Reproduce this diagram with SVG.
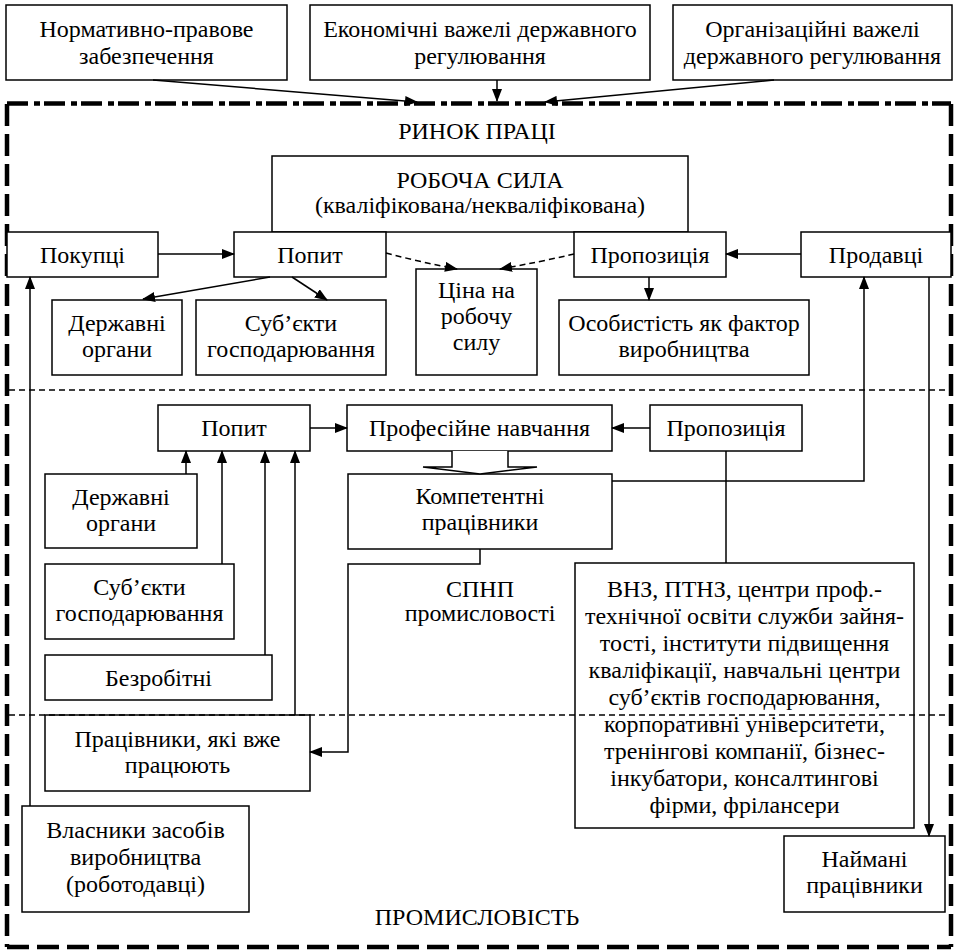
<svg xmlns="http://www.w3.org/2000/svg" width="954" height="951" viewBox="0 0 954 951">
<style>
.box{fill:#fff;stroke:#000;stroke-width:1.5}
text{font-family:"Liberation Serif","Times New Roman",serif;font-size:24px;fill:#000;text-anchor:middle}
.ln{fill:none;stroke:#000;stroke-width:1.5}
.dash{fill:none;stroke:#000;stroke-width:1.5;stroke-dasharray:6 4}
.thin{fill:none;stroke:#000;stroke-width:1.3;stroke-dasharray:6 4}
.bord{fill:none;stroke:#000;stroke-width:4.5;stroke-dasharray:22 8}
.bordtop{fill:none;stroke:#000;stroke-width:4.5;stroke-dasharray:21 6 6 4}
</style>
<defs>
<marker id="ah" markerWidth="13" markerHeight="10" refX="12" refY="5" orient="auto" markerUnits="userSpaceOnUse">
<path d="M0,0 L13,5 L0,10 z" fill="#000"/>
</marker>
</defs>

<g id="frame">
<line class="bordtop" x1="7" y1="103.5" x2="951" y2="103.5"/>
<line class="bord" x1="7" y1="104" x2="7" y2="947"/>
<line class="bord" x1="7" y1="947" x2="951" y2="947"/>
<line class="bord" x1="951" y1="104" x2="951" y2="947"/>
<text x="477" y="139">РИНОК ПРАЦІ</text>
<text x="477" y="925">ПРОМИСЛОВІСТЬ</text>
</g>

<g id="n-normative"><rect class="box" x="6" y="5" width="281" height="75"/><text x="146.5" y="37">Нормативно-правове</text><text x="146.5" y="64">забезпечення</text></g>
<g id="n-economic"><rect class="box" x="310" y="5" width="340" height="75"/><text x="480" y="37">Економічні важелі державного</text><text x="480" y="64">регулювання</text></g>
<g id="n-organiz"><rect class="box" x="673" y="5" width="279" height="75"/><text x="812.5" y="37">Організаційні важелі</text><text x="812.5" y="64">державного регулювання</text></g>

<g id="n-labour"><rect class="box" x="272" y="156" width="416" height="76"/><text x="480" y="188">РОБОЧА СИЛА</text><text x="480" y="213">(кваліфікована/некваліфікована)</text></g>

<g id="n-buyers"><rect class="box" x="7" y="232" width="151" height="45"/><text x="82.5" y="263">Покупці</text></g>
<g id="n-demand1"><rect class="box" x="234" y="232" width="152" height="45"/><text x="310" y="263">Попит</text></g>
<g id="n-supply1"><rect class="box" x="574" y="232" width="152" height="45"/><text x="650" y="263">Пропозиція</text></g>
<g id="n-sellers"><rect class="box" x="801" y="232" width="150" height="45"/><text x="876" y="263">Продавці</text></g>

<g id="n-price"><rect class="box" x="416" y="269" width="121" height="106"/><text x="476.5" y="298">Ціна на</text><text x="476.5" y="324">робочу</text><text x="476.5" y="350">силу</text></g>
<g id="n-state1"><rect class="box" x="52" y="300" width="130" height="75"/><text x="117" y="331">Державні</text><text x="117" y="357">органи</text></g>
<g id="n-subj1"><rect class="box" x="196" y="300" width="190" height="75"/><text x="291" y="331">Суб’єкти</text><text x="291" y="357">господарювання</text></g>
<g id="n-person"><rect class="box" x="559" y="300" width="250" height="75"/><text x="684" y="331">Особистість як фактор</text><text x="684" y="357">виробництва</text></g>

<g id="n-demand2"><rect class="box" x="158" y="405" width="152" height="46"/><text x="234" y="436">Попит</text></g>
<g id="n-training"><rect class="box" x="347" y="405" width="265" height="46"/><text x="479.5" y="436">Професійне навчання</text></g>
<g id="n-supply2"><rect class="box" x="650" y="405" width="152" height="46"/><text x="726" y="436">Пропозиція</text></g>

<g id="n-compet"><rect class="box" x="348" y="474" width="264" height="75"/><text x="480" y="504">Компетентні</text><text x="480" y="530">працівники</text></g>

<g id="n-spnp"><text x="480" y="597">СПНП</text><text x="480" y="621">промисловості</text></g>

<g id="n-state2"><rect class="box" x="45" y="474" width="152" height="74"/><text x="121" y="505">Державні</text><text x="121" y="531">органи</text></g>
<g id="n-subj2"><rect class="box" x="45" y="564" width="189" height="75"/><text x="139.5" y="595">Суб’єкти</text><text x="139.5" y="621">господарювання</text></g>
<g id="n-unemp"><rect class="box" x="45" y="655" width="227" height="45"/><text x="158.5" y="686">Безробітні</text></g>
<g id="n-workers"><rect class="box" x="45" y="715" width="265" height="76"/><text x="177.5" y="747">Працівники, які вже</text><text x="177.5" y="773">працюють</text></g>
<g id="n-owners"><rect class="box" x="22" y="806" width="227" height="106"/><text x="135.5" y="838">Власники засобів</text><text x="135.5" y="865">виробництва</text><text x="135.5" y="892">(роботодавці)</text></g>
<g id="n-hired"><rect class="box" x="784" y="836" width="161" height="76"/><text x="864.5" y="867">Наймані</text><text x="864.5" y="893">працівники</text></g>

<g id="n-inst"><rect class="box" x="575" y="563" width="339" height="265"/>
<text x="744.5" y="597">ВНЗ, ПТНЗ, центри проф.-</text>
<text x="744.5" y="624">технічної освіти служби зайня-</text>
<text x="744.5" y="651">тості, інститути підвищення</text>
<text x="744.5" y="678">кваліфікації, навчальні центри</text>
<text x="744.5" y="705">суб’єктів господарювання,</text>
<text x="744.5" y="732">корпоративні університети,</text>
<text x="744.5" y="759">тренінгові компанії, бізнес-</text>
<text x="744.5" y="786">інкубатори, консалтингові</text>
<text x="744.5" y="813">фірми, фрілансери</text>
</g>

<g id="connectors">
<line class="thin" x1="9" y1="390" x2="949" y2="390"/>
<line class="thin" x1="9" y1="715" x2="949" y2="715"/>
<line class="ln" x1="153" y1="80" x2="417" y2="102" marker-end="url(#ah)"/>
<line class="ln" x1="497" y1="80" x2="497" y2="101" marker-end="url(#ah)"/>
<line class="ln" x1="774" y1="80" x2="545" y2="102" marker-end="url(#ah)"/>
<line class="ln" x1="158" y1="254" x2="234" y2="254" marker-end="url(#ah)"/>
<line class="ln" x1="801" y1="254" x2="726" y2="254" marker-end="url(#ah)"/>
<path class="dash" d="M386,253 Q420,262 457,269" marker-end="url(#ah)"/>
<path class="dash" d="M574,254 Q540,262 500,269" marker-end="url(#ah)"/>
<line class="ln" x1="270" y1="277" x2="143" y2="299" marker-end="url(#ah)"/>
<line class="ln" x1="292" y1="277" x2="327" y2="300" marker-end="url(#ah)"/>
<line class="ln" x1="649" y1="277" x2="649" y2="300" marker-end="url(#ah)"/>
<line class="ln" x1="310" y1="428" x2="347" y2="428" marker-end="url(#ah)"/>
<line class="ln" x1="650" y1="428" x2="612" y2="428" marker-end="url(#ah)"/>
<path class="box" d="M452,451 V467 H423 L480,474 L537,467 H508 V451"/>
<path class="ln" d="M612,481 H864 V277" marker-end="url(#ah)"/>
<line class="ln" x1="726" y1="451" x2="726" y2="563"/>
<path class="ln" d="M480,549 V564 H348 V752 H310" marker-end="url(#ah)"/>
<line class="ln" x1="186" y1="474" x2="186" y2="451" marker-end="url(#ah)"/>
<line class="ln" x1="222" y1="564" x2="222" y2="451" marker-end="url(#ah)"/>
<line class="ln" x1="265" y1="655" x2="265" y2="451" marker-end="url(#ah)"/>
<line class="ln" x1="295" y1="715" x2="295" y2="451" marker-end="url(#ah)"/>
<line class="ln" x1="30" y1="806" x2="30" y2="277" marker-end="url(#ah)"/>
<line class="ln" x1="929" y1="277" x2="929" y2="836" marker-end="url(#ah)"/>
</g>
</svg>
